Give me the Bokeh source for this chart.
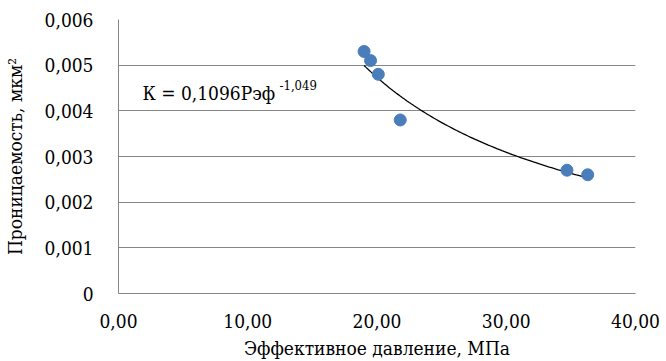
import numpy as np
from bokeh.plotting import figure
from bokeh.models import FixedTicker, Label
from bokeh.embed import file_html
from bokeh.resources import INLINE

# Data
pressure = [19.0, 19.5, 20.1, 21.8, 34.7, 36.3]
permeability = [0.0053, 0.0051, 0.0048, 0.0038, 0.0027, 0.0026]

# Power trend coefficients (K = a * P^b)
trend_a = 0.1096
trend_b = -1.049

x_ticks = [0, 10, 20, 30, 40]
x_tick_labels = ["0,00", "10,00", "20,00", "30,00", "40,00"]
y_ticks = [0, 0.001, 0.002, 0.003, 0.004, 0.005, 0.006]
y_tick_labels = ["0", "0,001", "0,002", "0,003", "0,004", "0,005", "0,006"]

FONT = "DejaVu Serif Condensed"

p = figure(width=666, height=361, output_backend="svg", toolbar_location=None,
           x_range=(0, 40), y_range=(0, 0.006),
           min_border_left=111, min_border_right=31, min_border_top=19, min_border_bottom=67)
p.outline_line_color = None
p.background_fill_color = "white"

# trend line from the equation
tx = np.linspace(min(pressure), max(pressure), 100)
ty = trend_a * tx ** trend_b
p.line(tx, ty, line_color="black", line_width=1.3)

p.scatter(pressure, permeability, size=12, fill_color="#4a7ebb", line_color="#4a7ebb")

p.xaxis.ticker = FixedTicker(ticks=x_ticks)
p.xaxis.major_label_overrides = {t: l for t, l in zip(x_ticks, x_tick_labels)}
p.yaxis.ticker = FixedTicker(ticks=y_ticks)
p.yaxis.major_label_overrides = {t: l for t, l in zip(y_ticks, y_tick_labels)}

for ax in (p.xaxis, p.yaxis):
    ax.major_tick_line_color = None
    ax.minor_tick_line_color = None
    ax.axis_line_color = "#868686"
    ax.major_label_text_font = FONT
    ax.major_label_text_font_size = "19px"
    ax.major_label_text_color = "black"
    ax.axis_label_text_font = FONT
    ax.axis_label_text_font_size = "19px"
    ax.axis_label_text_font_style = "normal"
    ax.axis_label_text_color = "black"

p.xaxis.axis_label = "Эффективное давление, МПа"
p.yaxis.axis_label = "Проницаемость, мкм²"
p.xaxis.major_label_standoff = 14
p.yaxis.major_label_standoff = 19
p.xaxis.axis_label_standoff = 6
p.yaxis.axis_label_standoff = 16

p.xgrid.grid_line_color = None
p.ygrid.grid_line_color = "#868686"
p.ygrid.grid_line_width = 1

p.add_layout(Label(x=24, y=201, x_units="screen", y_units="screen",
                   text="К = 0,1096Рэф", text_font=FONT, text_font_size="19px",
                   text_baseline="alphabetic", text_color="black"))
p.add_layout(Label(x=161, y=209, x_units="screen", y_units="screen",
                   text="-1,049", text_font=FONT, text_font_size="13px",
                   text_baseline="alphabetic", text_color="black"))

open("out.html", "w").write(file_html(p, INLINE))
